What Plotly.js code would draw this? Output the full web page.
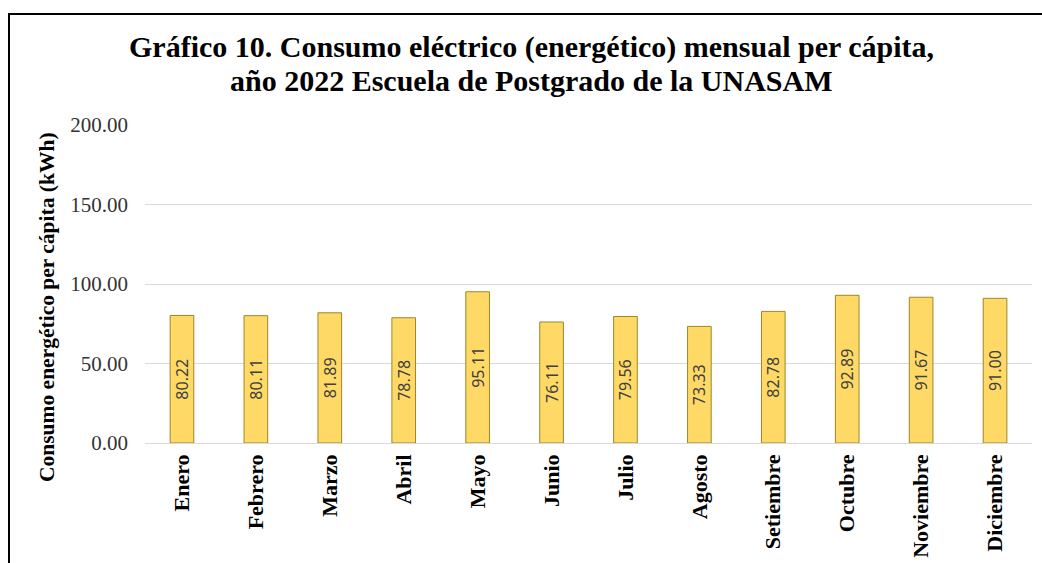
<!DOCTYPE html>
<html>
<head>
<meta charset="utf-8">
<script src="https://cdn.plot.ly/plotly-3.0.1.min.js"></script>
<style>
html,body{margin:0;padding:0;background:#fff;}
#wrap{position:relative;width:1042px;height:563px;overflow:hidden;}
#chart{position:absolute;left:0;top:0;width:1042px;height:563px;}
#frame{position:absolute;left:8px;top:13px;width:1100px;height:700px;border-left:2px solid #000;border-top:2px solid #000;pointer-events:none;}
</style>
</head>
<body>
<div id="wrap">
<div id="chart"></div>
<div id="frame"></div>
</div>
<script>
const months = ["Enero","Febrero","Marzo","Abril","Mayo","Junio","Julio","Agosto","Setiembre","Octubre","Noviembre","Diciembre"];
const consumo = [80.22, 80.11, 81.89, 78.78, 95.11, 76.11, 79.56, 73.33, 82.78, 92.89, 91.67, 91.00];
const yTicks = [0, 50, 100, 150, 200];
const yTickText = ["0.00","50.00","100.00","150.00","200.00"];
const titleLines = ["Gráfico 10. Consumo eléctrico (energético) mensual per cápita,", "año 2022 Escuela de Postgrado de la UNASAM"];

const trace = {
  type: 'bar',
  x: months,
  y: consumo,
  marker: {color: '#FFD966', line: {color: '#A08526', width: 1}},
  texttemplate: '%{y:.2f}',
  textposition: 'inside',
  insidetextanchor: 'middle',
  textangle: -90,
  constraintext: 'none',
  textfont: {family: 'Noto Sans, sans-serif', size: 16, color: '#404040'},
  hoverinfo: 'x+y'
};

const titleFont = {family: 'Liberation Serif, serif', size: 30, color: '#000', weight: 'bold'};

const layout = {
  width: 1042, height: 563,
  margin: {l: 145, r: 10, t: 125, b: 120},
  paper_bgcolor: '#fff', plot_bgcolor: '#fff',
  bargap: 0.68,
  showlegend: false,
  xaxis: {
    tickangle: -90,
    tickfont: {family: 'Liberation Serif, serif', size: 22, color: '#000', weight: 'bold'},
    showline: false, ticks: '', showgrid: false, ticklabelstandoff: 6
  },
  yaxis: {
    range: [0, 200],
    tickvals: yTicks, ticktext: yTickText,
    tickfont: {family: 'Liberation Serif, serif', size: 21, color: '#333'},
    gridcolor: '#d9d9d9', gridwidth: 1,
    zeroline: true, zerolinecolor: '#d9d9d9', zerolinewidth: 1,
    showline: false, ticks: '', ticklen: 0, automargin: false, ticklabelstandoff: 16
  },
  annotations: [{
    text: titleLines[0],
    xref: 'paper', yref: 'paper', x: 0.4363, y: 1.2453,
    xanchor: 'center', yanchor: 'middle', showarrow: false, font: titleFont
  }, {
    text: titleLines[1],
    xref: 'paper', yref: 'paper', x: 0.4363, y: 1.1415,
    xanchor: 'center', yanchor: 'middle', showarrow: false, font: titleFont
  }, {
    text: 'Consumo energético per cápita (kWh)',
    xref: 'paper', yref: 'paper', x: -0.1105, y: 0.4277,
    xanchor: 'center', yanchor: 'middle', textangle: -90, showarrow: false,
    font: {family: 'Liberation Serif, serif', size: 21.5, color: '#000', weight: 'bold'}
  }]
};

Plotly.newPlot('chart', [trace], layout, {displayModeBar: false, staticPlot: true});
</script>
</body>
</html>
